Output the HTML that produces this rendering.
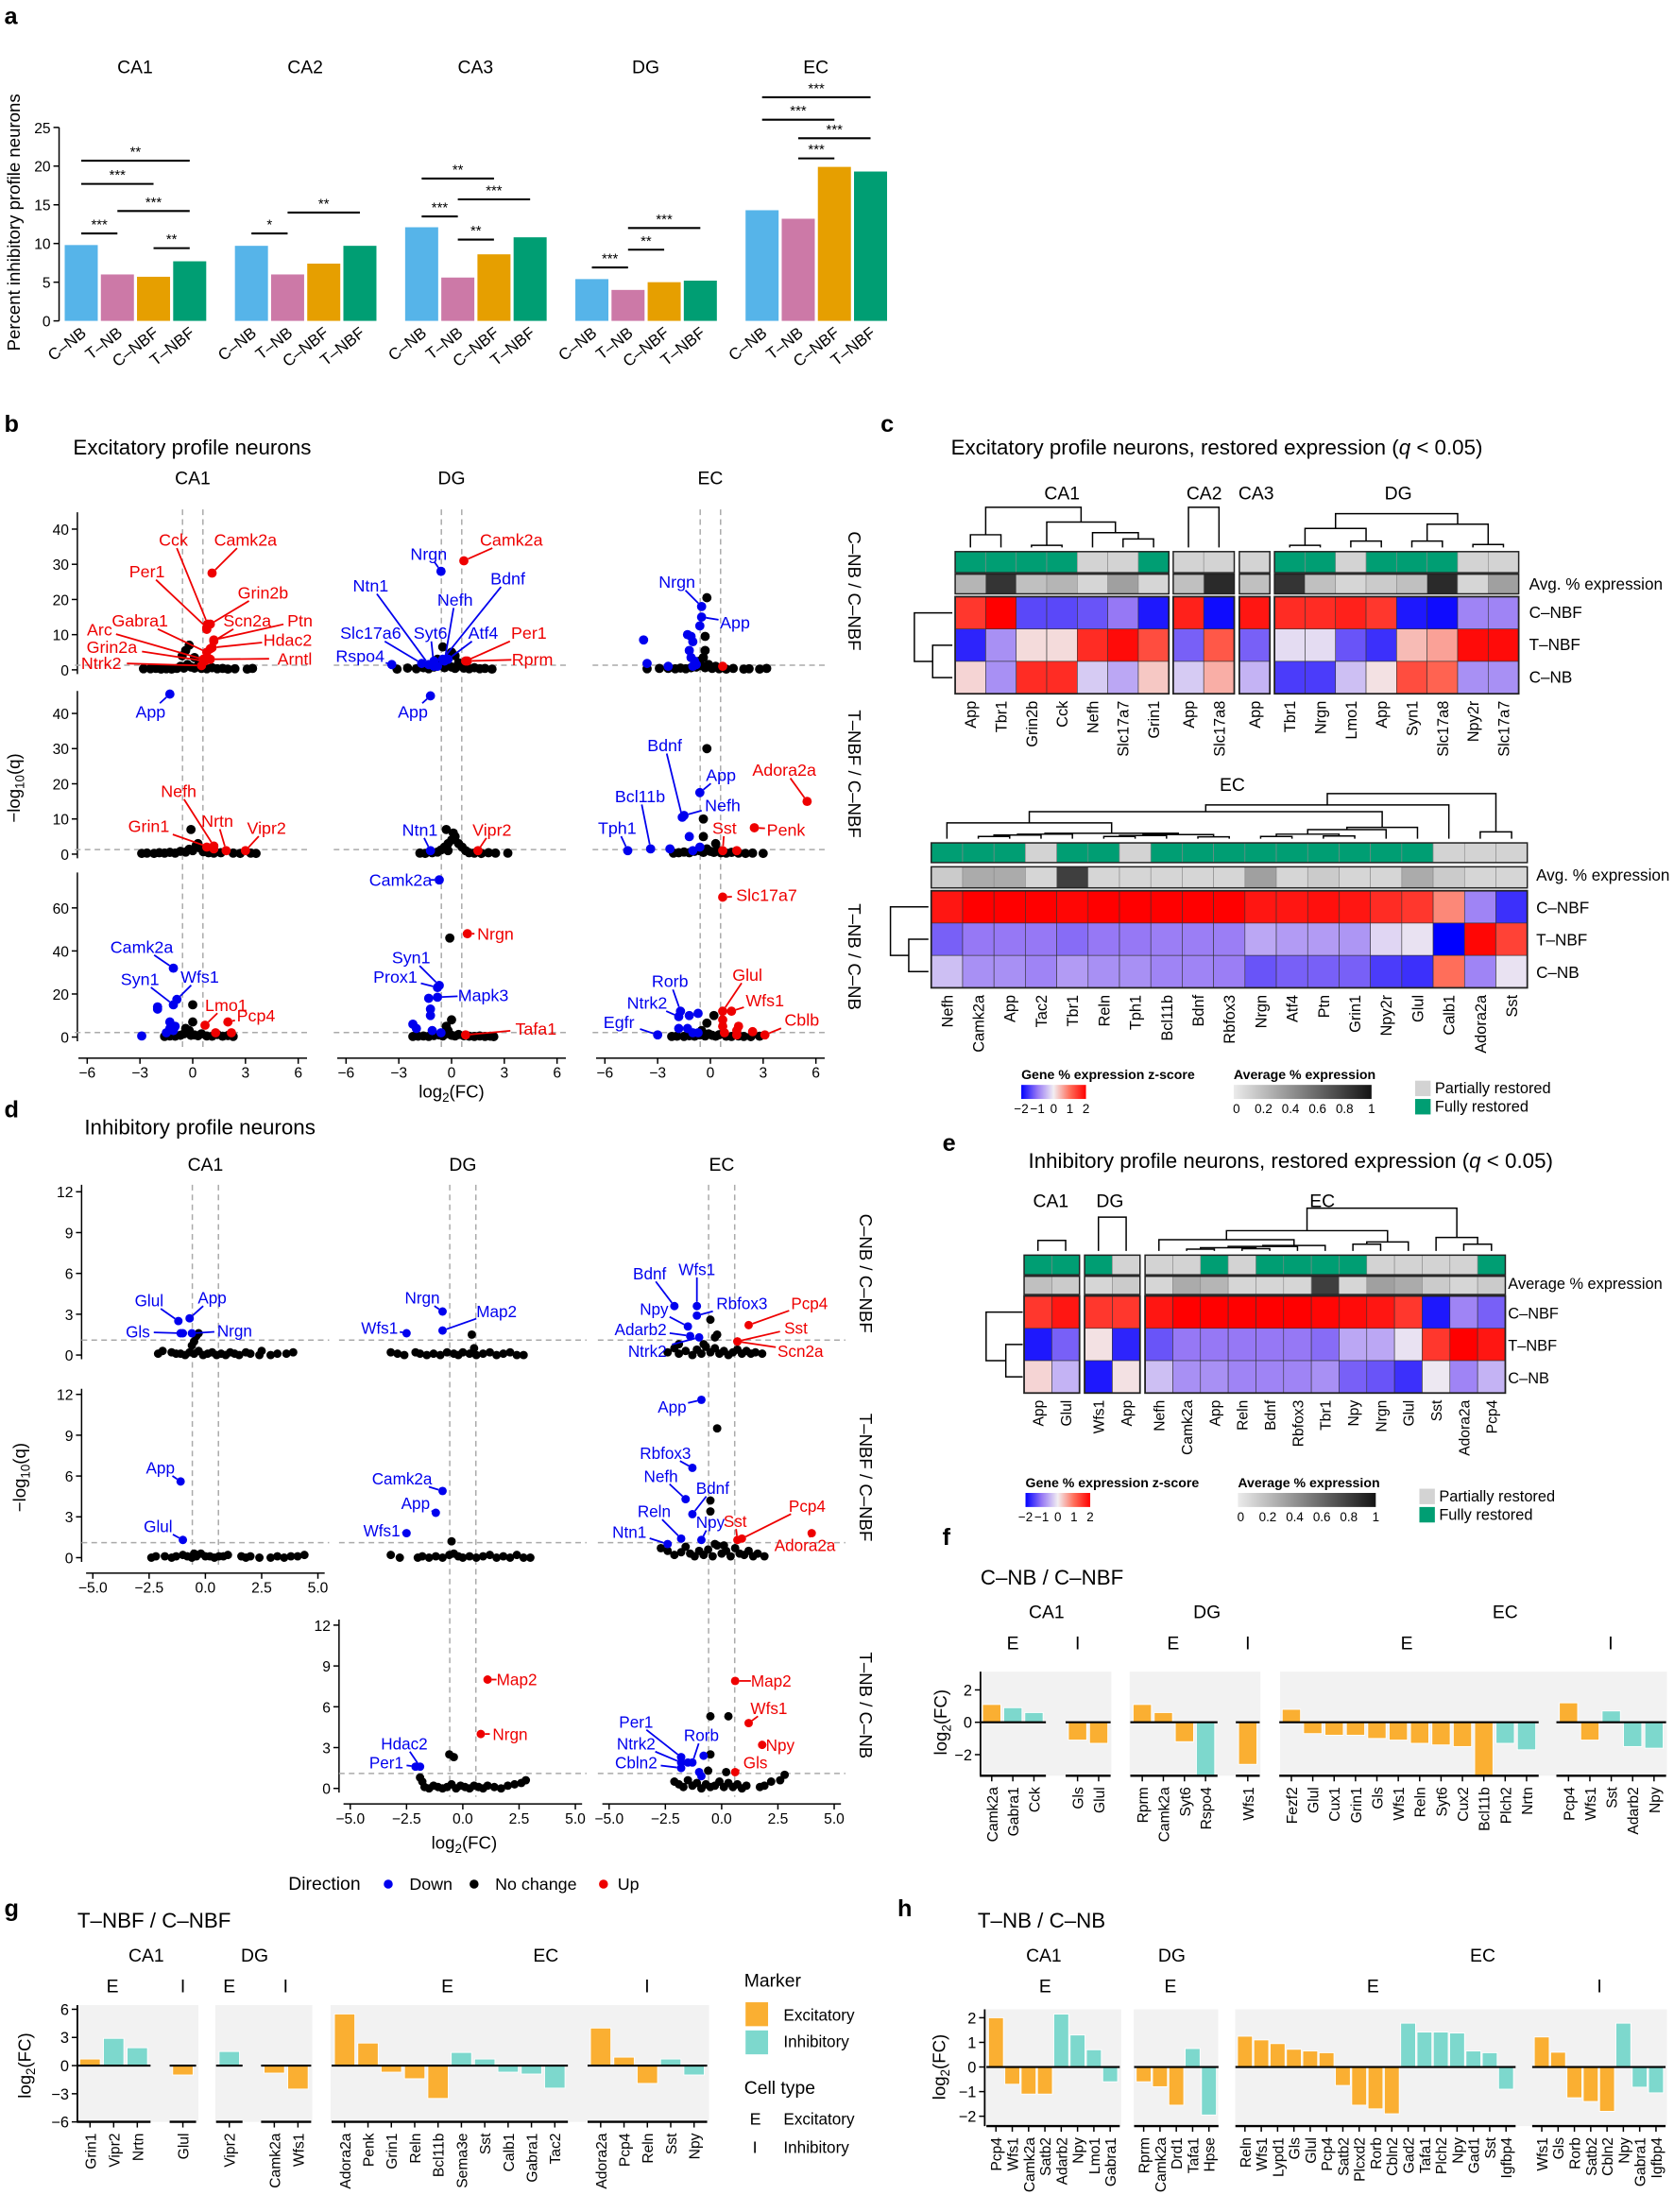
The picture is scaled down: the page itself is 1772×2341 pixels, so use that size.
<!DOCTYPE html>
<html><head><meta charset="utf-8"><style>
html,body{margin:0;padding:0;background:#fff}
svg{display:block;font-family:"Liberation Sans",Arial,sans-serif}
</style></head><body>
<svg id="fig" xmlns="http://www.w3.org/2000/svg" width="1772" height="2341" viewBox="0 0 1190 1572">
<rect x="0" y="0" width="1190" height="1572" fill="#fff"/>
<g font-weight="bold" font-size="17">
<text x="3" y="17">a</text>
<text x="3" y="307">b</text>
<text x="626" y="307">c</text>
<text x="3" y="794">d</text>
<text x="670" y="818">e</text>
<text x="670" y="1098">f</text>
<text x="3" y="1362">g</text>
<text x="638" y="1362">h</text>
</g>
<text x="14" y="158" font-size="12.5" text-anchor="middle" transform="rotate(-90 14 158)">Percent inhibitory profile neurons</text>
<text x="52" y="323" font-size="15">Excitatory profile neurons</text>
<text x="676" y="323" font-size="15">Excitatory profile neurons, restored expression (<tspan font-style="italic">q</tspan> &lt; 0.05)</text>
<text x="60" y="806" font-size="15">Inhibitory profile neurons</text>
<text x="731" y="830" font-size="15">Inhibitory profile neurons, restored expression (<tspan font-style="italic">q</tspan> &lt; 0.05)</text>
<text x="697" y="1126" font-size="15">C–NB / C–NBF</text>
<text x="55" y="1370" font-size="15">T–NBF / C–NBF</text>
<text x="695" y="1370" font-size="15">T–NB / C–NB</text>
<text x="14" y="560" font-size="12.5" text-anchor="middle" transform="rotate(-90 14 560)">−log<tspan font-size="9" dy="3">10</tspan><tspan dy="-3">(q)</tspan></text>
<text x="321" y="780" font-size="12.5" text-anchor="middle">log<tspan font-size="9" dy="3">2</tspan><tspan dy="-3">(FC)</tspan></text>
<text x="18" y="1050" font-size="12.5" text-anchor="middle" transform="rotate(-90 18 1050)">−log<tspan font-size="9" dy="3">10</tspan><tspan dy="-3">(q)</tspan></text>
<text x="330" y="1314" font-size="12.5" text-anchor="middle">log<tspan font-size="9" dy="3">2</tspan><tspan dy="-3">(FC)</tspan></text>
<text x="673" y="1224" font-size="12.5" text-anchor="middle" transform="rotate(-90 673 1224)">log<tspan font-size="9" dy="3">2</tspan><tspan dy="-3">(FC)</tspan></text>
<text x="22" y="1468" font-size="12.5" text-anchor="middle" transform="rotate(-90 22 1468)">log<tspan font-size="9" dy="3">2</tspan><tspan dy="-3">(FC)</tspan></text>
<text x="672" y="1469" font-size="12.5" text-anchor="middle" transform="rotate(-90 672 1469)">log<tspan font-size="9" dy="3">2</tspan><tspan dy="-3">(FC)</tspan></text>
<g font-size="12">
<text x="205" y="1343" font-size="13">Direction</text>
<circle cx="276" cy="1339" r="3.2" fill="#0000EE"/>
<text x="291" y="1343">Down</text>
<circle cx="337" cy="1339" r="3.2" fill="#000"/>
<text x="352" y="1343">No change</text>
<circle cx="429" cy="1339" r="3.2" fill="#EE0000"/>
<text x="439" y="1343">Up</text>
</g>
<g>
<text x="529" y="1412" font-size="13">Marker</text>
<rect x="530" y="1423" width="16" height="17" fill="#FAAF32"/>
<text x="557" y="1436" font-size="11.5">Excitatory</text>
<rect x="530" y="1443" width="16" height="17" fill="#7DD8CD"/>
<text x="557" y="1455" font-size="11.5">Inhibitory</text>
<text x="529" y="1488" font-size="13">Cell type</text>
<text x="533" y="1510" font-size="12">E</text>
<text x="557" y="1510" font-size="11.5">Excitatory</text>
<text x="535" y="1530" font-size="12">I</text>
<text x="557" y="1530" font-size="11.5">Inhibitory</text>
</g>
<defs>
<linearGradient id="zg" x1="0" x2="1" y1="0" y2="0"><stop offset="0" stop-color="#0000FF"/><stop offset="0.25" stop-color="#9678F5"/><stop offset="0.5" stop-color="#F2EEF2"/><stop offset="0.75" stop-color="#FF6E5A"/><stop offset="1" stop-color="#FF0000"/></linearGradient>
<linearGradient id="gg" x1="0" x2="1" y1="0" y2="0"><stop offset="0" stop-color="#EBEBEB"/><stop offset="1" stop-color="#141414"/></linearGradient>
</defs>
</svg>
<script>
// ---------- DATA: panel a ----------
const aRegions=['CA1','CA2','CA3','DG','EC'];
const aGroups=['C–NB','T–NB','C–NBF','T–NBF'];
const aValues=[[9.8,6.0,5.7,7.7],[9.7,6.0,7.4,9.7],[12.1,5.6,8.6,10.8],[5.4,4.0,5.0,5.2],[14.3,13.2,19.9,19.3]];
const aTicks=[0,5,10,15,20,25];
const aSig=[[0,0,1,11.3,'***'],[0,2,3,9.4,'**'],[0,1,3,14.2,'***'],[0,0,2,17.7,'***'],[0,0,3,20.7,'**'],
[1,0,1,11.3,'*'],[1,1,3,14.0,'**'],
[2,0,1,13.5,'***'],[2,1,2,10.5,'**'],[2,1,3,15.7,'***'],[2,0,2,18.4,'**'],
[3,0,1,6.9,'***'],[3,1,2,9.2,'**'],[3,1,3,12.0,'***'],
[4,1,2,21.0,'***'],[4,1,3,23.6,'***'],[4,0,2,26.0,'***'],[4,0,3,28.9,'***']];
// ---------- DATA: panel b volcanoes [x,y,dir,label,labelX,labelY] ----------
const b11Lab=[[1.1,27.5,'r','Camk2a',3,37],[0.85,13,'r','Cck',-1.1,37],[0.8,12,'r','Per1',-2.6,28],[1.0,13,'r','Grin2b',4,22],[0.8,5,'r','Gabra1',-3,14],[1.2,8.2,'r','Scn2a',3.1,14],[1.2,8.5,'r','Ptn',6.1,14],[1.1,6.3,'r','Hdac2',5.4,8.5],[0.6,3,'r','Arc',-5.3,11.5],[0.7,2.5,'r','Grin2a',-4.6,6.5],[1.0,3,'r','Arntl',5.8,3.2],[0.5,1.2,'r','Ntrk2',-5.2,2]];
const b11Base=[-2.8,0.3,-2.4,0.3,-2.1,0.4,-1.8,0.2,-1.5,0.3,-1.2,0.2,-0.9,0.4,-0.7,1,-0.5,0.5,-0.3,1.5,-0.1,0.8,0.1,0.5,0.3,1.2,0.5,0.4,0.8,0.3,1.1,0.6,1.4,0.3,1.7,0.4,2.0,0.2,2.4,0.3,3.1,0.2,3.4,0.4,-0.4,5.5,-0.2,7,-0.6,4,0.1,3.5];
const b11Extra=[0.8,11.5,'r',1.0,6,'r',0.9,3,'r'];
const b12Lab=[[0.7,31,'r','Camk2a',3.4,37],[-0.6,28,'b','Nrgn',-1.3,33],[-1.3,1.5,'b','Ntn1',-4.6,24],[-0.5,3,'b','Bdnf',3.2,26],[-0.4,2.5,'b','Nefh',0.2,20],[-1.7,1.8,'b','Slc17a6',-4.6,10.5],[-1.0,1,'b','Syt6',-1.2,10.5],[-3.4,1.5,'b','Rspo4',-5.2,4],[-0.2,3,'b','Atf4',1.8,10.5],[0.8,2.5,'r','Per1',4.4,10.5],[0.9,2.5,'r','Rprm',4.6,3]];
const b12Base=[-3.1,0.2,-2.5,0.5,-2.0,0.3,-1.6,0.6,-1.3,0.3,-1.0,0.8,-0.7,1.2,-0.4,0.6,-0.2,1.5,0,0.8,0.2,0.4,0.4,1.1,0.7,0.5,1.0,0.3,1.3,0.6,1.6,0.3,1.9,0.4,2.3,0.2,-0.5,6.5,0,5,0.2,4,-0.8,3,0.4,2];
const b12Extra=[-0.8,1,'b',-1.0,2.5,'b'];
const b13Lab=[[-0.5,18,'b','Nrgn',-1.9,25],[-0.5,15,'b','App',1.4,13.5]];
const b13Base=[-3.6,0.3,-2.9,0.4,-2.4,0.4,-2.0,0.3,-1.7,0.5,-1.4,0.3,-1.1,0.6,-0.8,0.8,-0.5,1.2,-0.3,0.6,-0.1,1.5,0.1,0.4,0.3,1,0.5,0.3,0.9,0.2,1.3,0.4,1.9,0.2,2.2,0.3,2.8,0.2,3.2,0.4,-0.2,20.5,-0.3,9.5,-0.3,5.5,-0.4,3.5,-0.6,2.5];
const b13Extra=[-3.8,8.5,'b',-3.6,1.8,'b',-1.3,10,'b',-1.1,9.5,'b',-1.0,8,'b',-1.2,5.5,'b',-1.1,3.5,'b',-0.9,2.5,'b',-0.8,1.5,'b',-1.0,1,'b',-0.6,12.5,'b',-2.4,1,'b',0.7,1,'r'];
const b21Lab=[[-1.3,45.5,'b','App',-2.4,40.5],[1.2,2.3,'r','Nefh',-0.8,18],[1.2,1.5,'r','Grin1',-2.5,8],[1.9,1,'r','Nrtn',1.4,9.5],[3,1,'r','Vipr2',4.2,7.5]];
const b21Base=[-2.9,0.2,-2.6,0.3,-2.2,0.2,-1.9,0.4,-1.6,0.3,-1.3,0.5,-1.0,0.3,-0.7,0.8,-0.4,0.6,-0.2,1.4,0,1,0.2,2.5,0.4,1.8,0.6,0.7,0.9,0.4,1.2,0.3,1.6,0.4,2.3,0.3,2.7,0.2,3.3,0.3,3.6,0.2,-0.1,7,0.3,3];
const b21Extra=[0.8,2,'r'];
const b22Lab=[[-1.2,45,'b','App',-2.2,40.5],[-1.2,1,'b','Ntn1',-1.8,7],[1.5,1,'r','Vipr2',2.3,7]];
const b22Base=[-1.8,0.3,-1.5,0.2,-1.1,0.4,-0.8,0.6,-0.6,1.2,-0.4,2,-0.2,3,0,4,0.2,5,0.4,3,0.6,2,0.8,1,1.0,0.4,1.3,0.3,1.7,0.2,2.1,0.4,2.5,0.3,3.2,0.3,-0.3,7,0.1,6,-0.2,1];
const b22Extra=[];
const b23Lab=[[-1.6,10.5,'b','Bdnf',-2.6,31],[-0.6,17.5,'b','App',0.6,22.5],[-1.5,11,'b','Nefh',0.7,14],[-3.4,1.5,'b','Bcl11b',-4,16.5],[-4.7,1,'b','Tph1',-5.3,7.5],[5.5,15,'r','Adora2a',4.2,24],[0.7,1,'r','Sst',0.8,7.5],[2.5,7.5,'r','Penk',4.3,7]];
const b23Base=[-2.1,0.3,-1.8,0.4,-1.5,0.6,-1.2,0.4,-0.9,0.8,-0.6,1,-0.4,0.5,-0.2,1.5,0,0.8,0.2,0.5,0.4,1.2,0.6,0.4,0.9,0.3,1.2,0.5,1.6,0.3,2.0,0.2,2.4,0.3,3.0,0.2,-0.2,30,-0.4,10,-0.4,5,0.3,3];
const b23Extra=[-1.2,5,'b',-2.3,1.5,'b',-0.6,2,'b',-1,1,'b',1.5,1,'r'];
const b31Lab=[[-1.1,32,'b','Camk2a',-2.9,42],[-1.1,15,'b','Syn1',-3.0,27],[-0.9,17.5,'b','Wfs1',0.4,28],[0.7,5.5,'r','Lmo1',1.9,15],[2,7,'r','Pcp4',3.6,10]];
const b31Base=[-1.6,0.3,-1.3,0.5,-1.0,0.4,-0.7,0.8,-0.5,1.5,-0.3,2,-0.1,0.8,0.1,1,0.3,0.6,0.5,1.5,0.8,0.5,1.1,0.4,1.4,1.2,1.7,0.4,2.0,0.7,2.3,0.3,0,15,0.0,7,-0.4,4,-0.2,3];
const b31Extra=[-2,14,'b',-2.0,13,'b',-1.3,7,'b',-1.0,5,'b',-2.9,0.5,'b',-1.5,2,'b',-1.1,3,'b',-1.3,4,'b',1.3,2,'r',2.2,2,'r'];
const b32Lab=[[-0.7,73,'b','Camk2a',-2.9,73],[0.9,48,'r','Nrgn',2.5,48],[-0.7,24,'b','Syn1',-2.3,37],[-0.8,23,'b','Prox1',-3.2,28],[-0.8,18.5,'b','Mapk3',1.8,19.5],[0.8,1,'r','Tafa1',4.8,4]];
const b32Base=[-2.2,0.3,-1.9,0.4,-1.6,0.5,-1.3,0.3,-1.0,0.7,-0.7,1,-0.5,0.5,-0.3,1.5,0,0.8,0.2,0.5,0.4,1.2,0.7,0.6,1.0,0.4,1.3,0.3,1.6,0.5,1.9,0.3,2.2,0.4,2.4,0.2,-0.1,46,0,8,-0.3,5,-0.2,3];
const b32Extra=[-1.3,18,'b',-1.2,13,'b',-1.2,10,'b',-2.2,6,'b',-2.0,4,'b',-1.1,3,'b',-0.6,2,'b'];
const b33Lab=[[0.7,65,'r','Slc17a7',3.2,66],[0.7,12,'r','Glul',2.1,29],[1.2,12,'r','Wfs1',3.1,17],[3.1,1,'r','Cblb',5.2,8],[-1.7,12,'b','Rorb',-2.3,26],[-1.8,9.5,'b','Ntrk2',-3.6,16],[-3,1,'b','Egfr',-5.2,7]];
const b33Base=[-2.2,0.3,-1.9,0.4,-1.5,0.3,-1.2,0.6,-0.9,0.4,-0.6,1,-0.3,0.5,-0.1,1.5,0.1,0.8,0.3,0.4,0.5,1.1,0.9,0.4,1.2,0.3,1.6,0.5,1.9,0.3,2.3,0.2,2.8,0.4,0.2,10,-0.2,6.5,-0.5,3];
const b33Extra=[-1.2,10,'b',-0.7,11,'b',-1.8,4,'b',-1.3,4,'b',-0.7,2,'b',-1.0,2,'b',0.7,8,'r',0.7,5,'r',1.6,5,'r',1.5,3,'r',2.4,2.5,'r',1.5,1,'r',0.8,2,'r'];
// ---------- DATA: panel d volcanoes ----------
const d11Lab=[[-1.2,2.5,'b','Glul',-2.5,4],[-0.7,2.7,'b','App',0.3,4.2],[-1.0,1.6,'b','Gls',-3.0,1.7],[-0.6,1.6,'b','Nrgn',1.3,1.8]];
const d11Base=[-2.1,0.1,-1.9,0.3,-1.5,0.2,-1.3,0.1,-1.1,0.1,-0.9,0,-0.7,0.2,-0.5,0.1,-0.3,0.3,-0.1,0,0.1,0.1,0.3,0.2,0.5,0,0.7,0.1,0.9,0,1.1,0.2,1.3,0.1,1.5,0,1.8,0.2,2.0,0.1,2.4,0,2.5,0.3,2.9,0,3.2,0.1,3.6,0.1,3.9,0.2,-0.4,1.4,-0.5,1.0,-0.6,0.7,-0.3,1.6];
const d11Extra=[-1.1,1.6,'b'];
const d12Lab=[[-0.9,3.2,'b','Nrgn',-1.8,4.2],[-0.9,1.8,'b','Map2',1.5,3.2],[-2.5,1.6,'b','Wfs1',-3.7,2]];
const d12Base=[-3.2,0.2,-2.9,0.1,-2.6,0,-2.1,0.2,-1.9,0.1,-1.6,0,-1.3,0.1,-1.0,0,-0.7,0.2,-0.4,0.1,-0.2,0,0,0.2,0.3,0.1,0.6,0,0.9,0.1,1.2,0.2,1.5,0,1.8,0.1,2.1,0.2,2.4,0,2.7,0,0.4,1.5,0.5,0.5];
const d12Extra=[];
const d13Lab=[[-2.1,3.6,'b','Bdnf',-3.2,6],[-1.1,3.6,'b','Wfs1',-1.1,6.3],[-1.1,2.9,'b','Rbfox3',0.9,3.8],[-1.5,2.1,'b','Npy',-3.0,3.4],[-1.4,1.4,'b','Adarb2',-3.6,1.9],[-1.0,1.3,'b','Ntrk2',-3.3,0.3],[1.2,2.2,'r','Pcp4',3.9,3.8],[0.7,1,'r','Sst',3.3,2],[0.7,1,'r','Scn2a',3.5,0.3]];
const d13Base=[-2.4,0.2,-2.1,0.5,-1.9,0.1,-1.6,0.3,-1.3,0,-1.1,0.4,-0.9,0.1,-0.7,0.6,-0.5,0.2,-0.3,0.5,-0.1,0.1,0.1,0.3,0.3,0,0.5,0.2,0.7,0.4,0.9,0.1,1.1,0.3,1.3,0.1,1.5,0.2,1.8,0.1,-0.5,2.6,-0.3,1.3,-0.2,1.5,-1.9,0.8,-0.8,0.8];
const d13Extra=[];
const d21Lab=[[-1.1,5.6,'b','App',-2.0,6.6],[-1.0,1.3,'b','Glul',-2.1,2.3]];
const d21Base=[-2.4,0,-2.2,0.1,-1.8,0.1,-1.5,0,-1.3,0.1,-1.0,0.2,-0.8,0.1,-0.6,0,-0.4,0.1,-0.2,0.3,0,0.1,0.2,0.1,0.4,0,0.6,0.1,0.8,0.1,1.0,0.2,1.6,0.1,1.8,0,2.0,0.1,2.4,0,2.9,0,3.2,0.1,3.5,0,3.8,0.1,4.1,0.1,4.4,0.2,-0.5,0.3];
const d21Extra=[];
const d22Lab=[[-0.9,4.9,'b','Camk2a',-2.7,5.8],[-1.2,3.3,'b','App',-2.1,4],[-2.5,1.8,'b','Wfs1',-3.6,2]];
const d22Base=[-3.2,0.2,-2.8,0,-2.0,0,-1.8,0.1,-1.5,0,-1.2,0.1,-0.9,0,-0.6,0.2,-0.4,0.3,-0.2,0.1,0,0,0.3,0.1,0.6,0,0.9,0.1,1.2,0.2,1.5,0,1.8,0.1,2.1,0,2.4,0.2,2.7,0,3.0,0,-0.5,1.2];
const d22Extra=[];
const d23Lab=[[-0.9,11.6,'b','App',-2.2,11.1],[-1.3,6.6,'b','Rbfox3',-2.5,7.7],[-1.6,4.3,'b','Nefh',-2.7,6],[-1.3,3.2,'b','Bdnf',-0.4,5.1],[-1.8,1.4,'b','Reln',-3.0,3.4],[-2.4,1,'b','Ntn1',-4.1,1.9],[-0.9,1.3,'b','Npy',-0.5,2.6],[0.7,1.3,'r','Sst',0.6,2.7],[0.9,1.4,'r','Pcp4',3.8,3.8],[4.0,1.8,'r','Adora2a',3.7,0.9]];
const d23Base=[-2.7,0.7,-2.4,0.5,-2.1,0.2,-1.8,0.4,-1.6,0.8,-1.4,0.3,-1.2,0.1,-1.0,0.5,-0.8,0.2,-0.6,0.6,-0.4,0.1,-0.2,0.9,0,0.3,0.2,0.5,0.4,0.1,0.6,0.7,0.8,0.3,1.0,0.2,1.2,0.5,1.4,0.1,1.6,0.3,1.9,0.1,-0.2,9.5,-0.5,4.2,-0.5,3.4,-0.3,1,0.1,0.9];
const d23Extra=[];
const d32Lab=[[1.1,8,'r','Map2',2.4,8],[0.8,4,'r','Nrgn',2.1,4],[-1.9,1.6,'b','Hdac2',-2.6,3.3],[-2.1,1.6,'b','Per1',-3.4,1.9]];
const d32Base=[-1.9,0.8,-1.8,0.5,-1.7,0.1,-1.5,0,-1.3,0.2,-1.1,0.1,-0.9,0,-0.7,0.1,-0.5,0.3,-0.3,0,-0.1,0.2,0.1,0.1,0.3,0,0.5,0.2,0.7,0.1,0.9,0,1.1,0.2,1.4,0.1,1.7,0,2.0,0.2,2.3,0.3,2.6,0.4,2.8,0.6,-0.6,2.5,-0.4,2.3];
const d32Extra=[];
const d33Lab=[[0.6,7.9,'r','Map2',2.2,7.9],[1.2,4.8,'r','Wfs1',2.1,5.9],[1.8,3.2,'r','Npy',2.6,3.2],[0.6,1.2,'r','Gls',1.5,1.9],[-1.8,2.3,'b','Per1',-3.8,4.9],[-1.3,1.9,'b','Rorb',-0.9,3.9],[-1.8,1.9,'b','Ntrk2',-3.8,3.3],[-1.8,1.5,'b','Cbln2',-3.8,1.9]];
const d33Base=[-2.1,0.5,-1.9,0.3,-1.7,0.1,-1.5,0.6,-1.3,0.2,-1.1,0.4,-0.9,0,-0.7,0.3,-0.5,0.1,-0.3,0.2,-0.1,0.5,0.1,0.1,0.3,0.4,0.5,0.1,0.7,0.3,0.9,0,1.1,0.2,-0.5,5.3,0.3,5.3,-0.5,2.5,-0.6,1.3,0.2,1.2,2.8,1,2.6,0.6,2.2,0.5,1.9,0.2,1.7,0.1];
const d33Extra=[-0.8,2.4,'b',-1.0,1.2,'b',-0.9,0.9,'b',-1.5,1.9,'b'];
// ---------- DATA: heatmaps (z-scores per gene: [C-NBF, T-NBF, C-NB]) ----------
const cRows=['C–NBF','T–NBF','C–NB'];
const cCA1Genes=['App','Tbr1','Grin2b','Cck','Nefh','Slc17a7','Grin1'];
const cCA1Z=[[1.5,-1.7,0.2],[2,-0.8,-0.8],[-1.4,0.15,1.6],[-1.4,0.15,1.6],[-1.3,1.6,-0.3],[-1,1.9,-0.6],[-1.8,1.3,0.3]];
const cCA1Full=[1,1,1,1,0,0,1];
const cCA1Avg=[0.25,0.85,0.2,0.25,0.1,0.35,0.1];
const cCA2Genes=['App','Slc17a8'];
const cCA2Z=[[1.7,-1.2,-0.3],[-1.9,1.2,0.5]];
const cCA2Full=[0,0];
const cCA2Avg=[0.2,0.9];
const cCA3Genes=['App'];
const cCA3Z=[[1.8,-1.2,-0.5]];
const cCA3Full=[0];
const cCA3Avg=[0.2];
const cDGGenes=['Tbr1','Nrgn','Lmo1','App','Syn1','Slc17a8','Npy2r','Slc17a7'];
const cDGZ=[[1.6,-0.15,-1.5],[1.6,-0.15,-1.5],[1.7,-1.3,-0.4],[1.5,-1.6,0.1],[-1.8,0.4,1.3],[-1.9,0.6,1.1],[-0.9,1.9,-0.8],[-0.9,1.9,-0.8]];
const cDGFull=[1,1,0,1,1,1,0,0];
const cDGAvg=[0.85,0.2,0.1,0.15,0.2,0.9,0.1,0.35];
const cECGenes=['Nefh','Camk2a','App','Tac2','Tbr1','Reln','Tph1','Bcl11b','Bdnf','Rbfox3','Nrgn','Atf4','Ptn','Grin1','Npy2r','Glul','Calb1','Adora2a','Sst'];
const cECZ=[[1.8,-1.2,-0.4],[2,-1,-0.8],[2,-1,-0.8],[2,-1,-0.9],[1.95,-1.1,-0.7],[2,-1,-0.8],[2,-1,-0.8],[2,-0.95,-0.9],[2,-0.95,-0.9],[2,-0.95,-0.95],[1.8,-0.6,-1.3],[1.8,-0.7,-1.2],[1.85,-0.7,-1.2],[1.8,-0.75,-1.2],[1.6,-0.2,-1.5],[1.5,-0.1,-1.6],[0.8,-2,1],[-0.9,1.95,-0.9],[-1.6,1.4,-0.1]];
const cECFull=[1,1,1,0,1,1,0,1,1,1,1,1,1,1,1,1,0,0,0];
const cECAvg=[0.15,0.3,0.3,0.1,0.8,0.1,0.1,0.1,0.1,0.1,0.35,0.1,0.15,0.1,0.1,0.3,0.15,0.1,0.1];
const eCA1Genes=['App','Glul'];
const eCA1Z=[[1.5,-1.8,0.2],[1.8,-1.2,-0.5]];
const eCA1Full=[1,1];
const eCA1Avg=[0.2,0.15];
const eDGGenes=['Wfs1','App'];
const eDGZ=[[1.5,0.1,-1.8],[1.5,-1.7,0.1]];
const eDGFull=[1,0];
const eDGAvg=[0.1,0.15];
const eECGenes=['Nefh','Camk2a','App','Reln','Bdnf','Rbfox3','Tbr1','Npy','Nrgn','Glul','Sst','Adora2a','Pcp4'];
const eECZ=[[1.8,-1.3,-0.4],[2,-1,-0.8],[2,-1,-0.8],[2,-1,-0.9],[2,-1,-0.9],[2,-1,-0.9],[1.95,-1.1,-0.8],[1.9,-0.6,-1.2],[1.8,-0.6,-1.3],[1.5,-0.1,-1.6],[-1.8,1.5,-0.05],[-0.9,2,-0.9],[-1.2,1.8,-0.5]];
const eECFull=[0,0,1,0,1,1,1,1,0,0,0,0,1];
const eECAvg=[0.1,0.3,0.25,0.1,0.1,0.1,0.8,0.1,0.35,0.3,0.15,0.1,0.15];
// ---------- DATA: bar panels f, g, h ----------
const fGenes=['Camk2a','Gabra1','Cck','Gls','Glul','Rprm','Camk2a','Syt6','Rspo4','Wfs1','Fezf2','Glul','Cux1','Grin1','Gls','Wfs1','Reln','Syt6','Cux2','Bcl11b','Plch2','Nrtn','Pcp4','Wfs1','Sst','Adarb2','Npy'];
const fValues=[1.1,0.9,0.6,-1.1,-1.3,1.1,0.6,-1.2,-3.3,-2.6,0.8,-0.7,-0.8,-0.8,-1.0,-1.1,-1.3,-1.4,-1.5,-3.3,-1.3,-1.7,1.2,-1.1,0.7,-1.5,-1.6];
const fMarker=['E','I','I','E','E','E','E','E','I','E','E','E','E','E','E','E','E','E','E','E','I','I','E','E','I','I','I'];
const fTicks=[-2,0,2];
const gGenes=['Grin1','Vipr2','Nrtn','Glul','Vipr2','Camk2a','Wfs1','Adora2a','Penk','Grin1','Reln','Bcl11b','Sema3e','Sst','Calb1','Gabra1','Tac2','Adora2a','Pcp4','Reln','Sst','Npy'];
const gValues=[0.7,2.9,1.9,-1.0,1.5,-0.8,-2.5,5.5,2.4,-0.7,-1.4,-3.5,1.4,0.7,-0.7,-0.9,-2.4,4.0,0.9,-1.9,0.7,-1.0];
const gMarker=['E','I','I','E','I','E','E','E','E','E','E','E','I','I','I','I','I','E','E','E','I','I'];
const gTicks=[-6,-3,0,3,6];
const hGenes=['Pcp4','Wfs1','Camk2a','Satb2','Adarb2','Npy','Lmo1','Gabra1','Rprm','Camk2a','Drd1','Tafa1','Hpse','Reln','Wfs1','Lypd1','Gls','Glul','Pcp4','Satb2','Plcxd2','Rorb','Cbln2','Gad2','Tafa1','Plch2','Npy','Gad1','Sst','Igfbp4','Wfs1','Gls','Rorb','Satb2','Cbln2','Npy','Gabra1','Igfbp4'];
const hValues=[2.0,-0.7,-1.1,-1.1,2.15,1.3,0.7,-0.6,-0.6,-0.8,-1.55,0.75,-1.95,1.25,1.1,0.95,0.72,0.65,0.58,-0.75,-1.55,-1.7,-1.9,1.78,1.42,1.42,1.38,0.65,0.58,-0.9,1.22,0.6,-1.25,-1.4,-1.8,1.78,-0.82,-1.05];
const hMarker=['E','E','E','E','I','I','I','I','E','E','E','I','I','E','E','E','E','E','E','E','E','E','E','I','I','I','I','I','I','I','E','E','E','E','E','I','I','I'];
const hTicks=[-2,-1,0,1,2];

// ---------- helpers ----------
const NS='http://www.w3.org/2000/svg';
const svg=document.getElementById('fig');
function E(tag,at){const e=document.createElementNS(NS,tag);for(const k in at)e.setAttribute(k,at[k]);svg.appendChild(e);return e;}
function T(x,y,s,o){o=o||{};
 const e=E('text',{x:x,y:y,'font-size':o.fs||11,'text-anchor':o.a||'start',fill:o.c||'#000','font-weight':o.w||'normal'});
 if(o.r!==undefined)e.setAttribute('transform','rotate('+o.r+' '+x+' '+y+')');
 e.textContent=s;
 
 
 return e;}
function L(x1,y1,x2,y2,o){o=o||{};
 const e=E('line',{x1:x1,y1:y1,x2:x2,y2:y2,stroke:o.c||'#000','stroke-width':o.w||1});
 if(o.d)e.setAttribute('stroke-dasharray',o.d);
 
 
 return e;}
function R(x,y,w,h,fill,o){o=o||{};
 const e=E('rect',{x:x,y:y,width:w,height:h,fill:fill});
 if(o.s){e.setAttribute('stroke',o.s);e.setAttribute('stroke-width',o.sw||0.6);}
 
 
 return e;}
function P(d,o){o=o||{};
 const e=E('path',{d:d,fill:'none',stroke:o.c||'#000','stroke-width':o.w||1});
 
 
 return e;}
const fmt=v=>(v<0?'−':'')+Math.abs(v);

// ---------- panel a ----------
(function(){
 const ay=v=>228-v*5.5;
 const cols=['#56B4E9','#CC79A7','#E69F00','#009E73'];
 L(42,ay(0),42,ay(25),{n:'a-y-axis'});
 aTicks.forEach(t=>{L(38,ay(t),42,ay(t),{n:'a-y-tick'});T(36,ay(t)+4,String(t),{a:'end',fs:10.5,n:'a-y-tick-label'});});
 aRegions.forEach((rg,g)=>{
  const gx=46+g*121;
  T(gx+50,52,rg,{a:'middle',fs:13,n:'a-region-title'});
  aValues[g].forEach((v,i)=>{
   const x=gx+i*25.7;
   const r=R(x,ay(v),23.5,ay(0)-ay(v),cols[i]);
   
   T(x+16,238,aGroups[i],{a:'end',fs:11.5,r:-38,n:'a-x-label'});
  });
 });
 aSig.forEach(s=>{const gx=46+s[0]*121;const x1=gx+s[1]*25.7+11.75,x2=gx+s[2]*25.7+11.75,y=ay(s[3]);
  L(x1,y,x2,y,{w:1.4,n:'a-significance-bar'});T((x1+x2)/2,y-3,s[4],{a:'middle',fs:10,n:'a-significance-stars'});});
})();

// ---------- volcano ----------
function volcano(p,lab,base,extra){
 const X=v=>p.x0+v*p.sx, Y=v=>p.y0-v*p.sy;
 L(X(-p.xr),Y(p.thr),X(p.xr),Y(p.thr),{c:'#aaa',d:'4,3',n:'q-threshold-line'});
 for(let i=0;i<base.length;i+=2){const c=E('circle',{cx:X(base[i]),cy:Y(base[i+1]),r:p.pr,fill:'#000'});
  
  }
 for(let i=0;i<extra.length;i+=3){const c=E('circle',{cx:X(extra[i]),cy:Y(extra[i+1]),r:p.pr,fill:extra[i+2]=='r'?'#EE0000':'#0000EE'});
  
  }
 lab.forEach(q=>{const col=q[2]=='r'?'#EE0000':'#0000EE';
  const px=X(q[0]),py=Y(q[1]),lx=X(q[4]),ly=Y(q[5]);
  const dx=px-lx,dy=py-ly,dist=Math.hypot(dx,dy);
  const hw=q[3].length*p.fs*0.27+2,hh=p.fs*0.5;
  const t=Math.min(Math.abs(dx)>0.01?hw/Math.abs(dx):99,Math.abs(dy)>0.01?hh/Math.abs(dy):99);
  if(t<1&&dist>p.pr+4){L(lx+dx*t,ly+dy*t,px-dx/dist*p.pr,py-dy/dist*p.pr,{c:col,w:1.2,n:'gene-label-leader'});}
  const c=E('circle',{cx:px,cy:py,r:p.pr,fill:col});
  
  
  T(lx,ly+p.fs*0.36,q[3],{a:'middle',fs:p.fs,c:col,n:'gene-label'});
 });
}
function yAxis(x,y0,sy,ticks,top,fs){L(x,y0+3,x,top,{n:'y-axis'});ticks.forEach(t=>{L(x-4,y0-t*sy,x,y0-t*sy,{n:'y-tick'});T(x-6,y0-t*sy+4,String(t),{a:'end',fs:fs,n:'y-tick-label'});});}
function xAxis(x0,sx,y,ticks,lo,hi,labels,fs){L(x0+lo*sx,y,x0+hi*sx,y,{n:'x-axis'});ticks.forEach((t,i)=>{L(x0+t*sx,y,x0+t*sx,y+4,{n:'x-tick'});T(x0+t*sx,y+14,labels[i],{a:'middle',fs:fs,n:'x-tick-label'});});}

// panel b
(function(){
 const xs=[137,321,505],ys=[476,607,737],sy=[2.5,2.5,1.53],sx=12.5;
 ['CA1','DG','EC'].forEach((r,i)=>{T(xs[i],344,r,{a:'middle',fs:13,n:'b-column-title'});
  [-0.58,0.58].forEach(v=>L(xs[i]+v*sx,362,xs[i]+v*sx,745,{c:'#aaa',d:'4,3',n:'fc-threshold-line'}));
  xAxis(xs[i],sx,752,[-6,-3,0,3,6],-6.5,6.5,['−6','−3','0','3','6'],10.5);});
 yAxis(55,ys[0],sy[0],[0,10,20,30,40],364,10.5);
 yAxis(55,ys[1],sy[1],[0,10,20,30,40],491,10.5);
 yAxis(55,ys[2],sy[2],[0,20,40,60],620,10.5);
 const sets=[[b11Lab,b11Base,b11Extra],[b12Lab,b12Base,b12Extra],[b13Lab,b13Base,b13Extra],[b21Lab,b21Base,b21Extra],[b22Lab,b22Base,b22Extra],[b23Lab,b23Base,b23Extra],[b31Lab,b31Base,b31Extra],[b32Lab,b32Base,b32Extra],[b33Lab,b33Base,b33Extra]];
 sets.forEach((s,k)=>{const r=Math.floor(k/3),c=k%3;volcano({x0:xs[c],y0:ys[r],sx:sx,sy:sy[r],xr:6.7,thr:1.3/sy[r]*2.5,pr:3.3,fs:12},s[0],s[1],s[2]);});
 [['C–NB / C–NBF',420],['T–NBF / C–NBF',550],['T–NB / C–NB',680]].forEach(q=>T(603,q[1],q[0],{a:'middle',fs:12.5,r:90,n:'b-row-label'}));
})();
// panel d
(function(){
 const xs=[146,329,513],ys=[963,1107,1271],sx=16,sy=9.67;
 ['CA1','DG','EC'].forEach((r,i)=>{T(xs[i],832,r,{a:'middle',fs:13,n:'d-column-title'});
  const bot=i==0?1112:1277;
  [-0.58,0.58].forEach(v=>L(xs[i]+v*sx,842,xs[i]+v*sx,bot,{c:'#aaa',d:'4,3',n:'fc-threshold-line'}));});
 xAxis(xs[0],sx,1118,[-5,-2.5,0,2.5,5],-5.3,5.3,['−5.0','−2.5','0.0','2.5','5.0'],10.5);
 xAxis(xs[1],sx,1282,[-5,-2.5,0,2.5,5],-5.3,5.3,['−5.0','−2.5','0.0','2.5','5.0'],10.5);
 xAxis(xs[2],sx,1282,[-5,-2.5,0,2.5,5],-5.3,5.3,['−5.0','−2.5','0.0','2.5','5.0'],10.5);
 yAxis(58,ys[0],sy,[0,3,6,9,12],842,10.5);
 yAxis(58,ys[1],sy,[0,3,6,9,12],987,10.5);
 yAxis(241,ys[2],sy,[0,3,6,9,12],1151,10.5);
 const sets=[[0,0,d11Lab,d11Base,d11Extra],[0,1,d12Lab,d12Base,d12Extra],[0,2,d13Lab,d13Base,d13Extra],[1,0,d21Lab,d21Base,d21Extra],[1,1,d22Lab,d22Base,d22Extra],[1,2,d23Lab,d23Base,d23Extra],[2,1,d32Lab,d32Base,d32Extra],[2,2,d33Lab,d33Base,d33Extra]];
 sets.forEach(s=>volcano({x0:xs[s[1]],y0:ys[s[0]],sx:sx,sy:sy,xr:5.5,thr:1.1,pr:3,fs:11.5},s[2],s[3],s[4]));
 [['C–NB / C–NBF',905],['T–NBF / C–NBF',1050],['T–NB / C–NB',1212]].forEach(q=>T(611,q[1],q[0],{a:'middle',fs:12.5,r:90,n:'d-row-label'}));
})();

// ---------- heatmaps ----------
function zcol(z){const st=[[-2,[0,0,255]],[-1,[150,120,245]],[0,[242,238,242]],[1,[255,110,90]],[2,[255,0,0]]];z=Math.max(-2,Math.min(2,z));
 for(let i=0;i<4;i++){if(z<=st[i+1][0]){const t=z-st[i][0],a=st[i][1],b=st[i+1][1];return 'rgb('+a.map((v,k)=>Math.round(v+(b[k]-v)*t)).join(',')+')';}}return 'rgb(255,0,0)';}
function gcol(v){const c=Math.round(235-v*215);return 'rgb('+c+','+c+','+c+')';}
function heatBlock(x,genes,z,full,avg,g){
 genes.forEach((gn,i)=>{const cx=x+i*g.cw;
  R(cx,g.annY,g.cw,g.annH,full[i]?'#009E73':'#D3D3D3',{s:'#888',sw:0.4,n:'restoration-annotation-'+gn});
  R(cx,g.avgY,g.cw,g.avgH,gcol(avg[i]),{s:'#888',sw:0.4,n:'avg-expression-'+gn});
  for(let r=0;r<3;r++)R(cx,g.hY+r*g.rh,g.cw,g.rh,zcol(z[i][r]),{s:'#333',sw:0.4,n:'heat-cell-'+gn});
  T(cx+g.cw/2+4,g.labY,gn,{a:'end',fs:g.fs,r:-90,n:'heatmap-gene-label'});
 });
 const w=genes.length*g.cw;
 R(x,g.annY,w,g.annH,'none',{s:'#222',sw:1,n:'annotation-border'});
 R(x,g.avgY,w,g.avgH,'none',{s:'#222',sw:1,n:'avg-border'});
 R(x,g.hY,w,3*g.rh,'none',{s:'#222',sw:1.2,n:'heatmap-border'});
}
function dend(x,cw,n,merges,ybase,scale){const pos=[],ht=[];for(let i=0;i<n;i++){pos.push(x+(i+0.5)*cw);ht.push(0);}
 merges.forEach(m=>{const a=m[0],b=m[1],y=ybase-m[2]*scale;P('M'+pos[a]+' '+(ybase-ht[a]*scale)+'V'+y+'H'+pos[b]+'V'+(ybase-ht[b]*scale),{n:'dendrogram-branch'});pos.push((pos[a]+pos[b])/2);ht.push(m[2]);});}
function rowDend(xr,y0,rh,w1,w2){const c=[y0+rh/2,y0+1.5*rh,y0+2.5*rh];
 P('M'+xr+' '+c[1]+'H'+(xr-w1)+'V'+c[2]+'H'+xr,{n:'row-dendrogram'});
 P('M'+xr+' '+c[0]+'H'+(xr-w2)+'V'+(c[1]+c[2])/2+'H'+(xr-w1),{n:'row-dendrogram'});}
function heatLegend(x,y){
 T(x,y,'Gene % expression z-score',{fs:9.5,w:'bold',n:'zscore-legend-title'});
 R(x,y+4,46,10,'url(#zg)',{n:'zscore-colorbar'});
 [['−2',0],['−1',11.5],['0',23],['1',34.5],['2',46]].forEach(q=>T(x+q[1],y+24,q[0],{a:'middle',fs:9,n:'zscore-tick-label'}));
 T(x+151,y,'Average % expression',{fs:9.5,w:'bold',n:'avg-legend-title'});
 R(x+151,y+4,98,10,'url(#gg)',{n:'avg-colorbar'});
 ['0','0.2','0.4','0.6','0.8','1'].forEach((s,i)=>T(x+153+i*19.2,y+24,s,{a:'middle',fs:9,n:'avg-tick-label'}));
 R(x+280,y+1,11,11,'#D3D3D3',{n:'legend-partial-swatch'});
 T(x+294,y+10,'Partially restored',{fs:11,n:'legend-partial-label'});
 R(x+280,y+14,11,11,'#009E73',{n:'legend-full-swatch'});
 T(x+294,y+23,'Fully restored',{fs:11,n:'legend-full-label'});
}
(function(){
 const g={cw:21.7,annY:392,annH:15,avgY:408,avgH:14,hY:424,rh:23,labY:498,fs:11};
 heatBlock(679,cCA1Genes,cCA1Z,cCA1Full,cCA1Avg,g);
 heatBlock(834,cCA2Genes,cCA2Z,cCA2Full,cCA2Avg,g);
 heatBlock(881,cCA3Genes,cCA3Z,cCA3Full,cCA3Avg,g);
 heatBlock(906,cDGGenes,cDGZ,cDGFull,cDGAvg,g);
 dend(679,21.7,7,[[2,3,0.05],[0,1,0.3],[5,6,0.2],[4,9,0.35],[7,10,0.6],[8,11,0.95]],389,30);
 dend(834,21.7,2,[[0,1,0.95]],389,30);
 dend(906,21.7,8,[[0,1,0.05],[2,3,0.15],[8,9,0.45],[4,5,0.15],[6,7,0.07],[11,12,0.55],[10,13,0.8]],389,30);
 rowDend(677,424,23,14,27);
 [['CA1',755],['CA2',856],['CA3',893],['DG',994]].forEach(q=>T(q[1],355,q[0],{a:'middle',fs:13,n:'c-region-title'}));
 T(1087,419,'Avg. % expression',{fs:11.5,n:'c-avg-row-label'});
 cRows.forEach((r,i)=>T(1087,439+i*23,r,{fs:11.5,n:'c-row-label'}));
 const h={cw:22.3,annY:599,annH:14,avgY:616,avgH:15,hY:633,rh:23,labY:707,fs:11};
 heatBlock(662,cECGenes,cECZ,cECFull,cECAvg,h);
 dend(662,22.3,19,[[1,2,0.05],[19,3,0.08],[20,4,0.1],[5,6,0.05],[22,7,0.07],[8,9,0.04],[23,24,0.09],[21,25,0.12],[0,26,0.35],[10,11,0.05],[12,13,0.06],[28,29,0.1],[30,14,0.2],[31,15,0.25],[27,32,0.6],[33,16,0.75],[17,18,0.15],[34,35,1.0]],596,32);
 rowDend(660,633,23,14,27);
 T(876,562,'EC',{a:'middle',fs:13,n:'c-ec-title'});
 T(1092,626,'Avg. % expression',{fs:11.5,n:'c-ec-avg-row-label'});
 cRows.forEach((r,i)=>T(1092,649+i*23,r,{fs:11.5,n:'c-ec-row-label'}));
 heatLegend(726,767);
})();
(function(){
 const g={cw:19.7,annY:892,annH:14,avgY:907,avgH:13,hY:921,rh:23,labY:995,fs:10.5};
 heatBlock(728,eCA1Genes,eCA1Z,eCA1Full,eCA1Avg,g);
 heatBlock(771,eDGGenes,eDGZ,eDGFull,eDGAvg,g);
 heatBlock(814,eECGenes,eECZ,eECFull,eECAvg,g);
 dend(728,19.7,2,[[0,1,0.25]],889,30);
 dend(771,19.7,2,[[0,1,0.8]],889,30);
 dend(814,19.7,13,[[1,2,0.04],[3,4,0.05],[13,14,0.07],[15,5,0.1],[16,6,0.12],[0,17,0.25],[7,8,0.15],[19,9,0.2],[18,20,0.45],[11,12,0.15],[10,22,0.3],[21,23,0.95]],889,32);
 rowDend(727,921,23,12,26);
 [['CA1',747],['DG',789],['EC',940]].forEach(q=>T(q[1],858,q[0],{a:'middle',fs:13,n:'e-region-title'}));
 T(1072,916,'Average % expression',{fs:11,n:'e-avg-row-label'});
 cRows.forEach((r,i)=>T(1072,937+i*23,r,{fs:11,n:'e-row-label'}));
 heatLegend(729,1057);
})();

// ---------- bar panels ----------
function barPanel(genes,vals,marker,cfg){
 const Y=v=>cfg.y0-v*cfg.sy;
 cfg.panels.forEach(p=>R(p[0],cfg.top,p[1]-p[0],cfg.bot-cfg.top,'#F2F2F2',{n:'facet-background'}));
 L(cfg.ax,cfg.top,cfg.ax,cfg.bot,{w:1.2,n:'y-axis'});
 cfg.ticks.forEach(t=>{L(cfg.ax-4,Y(t),cfg.ax,Y(t),{n:'y-tick'});T(cfg.ax-6,Y(t)+4,fmt(t),{a:'end',fs:11,n:'y-tick-label'});});
 cfg.groups.forEach(gp=>{
  const x1=gp.c0-gp.step/2-1,x2=gp.c0+(gp.e-gp.s)*gp.step+gp.step/2+1;
  for(let i=gp.s;i<=gp.e;i++){const cx=gp.c0+(i-gp.s)*gp.step,v=vals[i];
   const r=R(cx-cfg.bw/2,Y(Math.max(v,0)),cfg.bw,Math.abs(Y(v)-Y(0)),marker[i]=='E'?'#FAAF32':'#7DD8CD',{s:'#fff',sw:0.6});
   
   L(cx,cfg.bot,cx,cfg.bot+4,{n:'x-tick'});
   T(cx+4,cfg.bot+8,genes[i],{a:'end',fs:10.5,r:-90,n:'bar-gene-label'});}
  L(x1,Y(0),x2,Y(0),{w:1.4,n:'zero-line'});
  L(x1,cfg.bot,x2,cfg.bot,{w:1.6,n:'x-axis-segment'});
 });
 cfg.titles.forEach(t=>T(t[1],t[2],t[0],{a:'middle',fs:13,n:'facet-title'}));
}
barPanel(fGenes,fValues,fMarker,{y0:1224,sy:11.5,top:1188,bot:1262,ax:697,ticks:fTicks,bw:13,
 panels:[[697,790],[803,896],[910,1185]],
 groups:[{s:0,e:2,c0:705,step:15},{s:3,e:4,c0:766,step:15},{s:5,e:8,c0:812,step:15},{s:9,e:9,c0:887,step:15},{s:10,e:21,c0:918,step:15.2},{s:22,e:26,c0:1115,step:15.2}],
 titles:[['CA1',744,1150],['DG',858,1150],['EC',1070,1150],['E',720,1172],['I',766,1172],['E',834,1172],['I',887,1172],['E',1000,1172],['I',1145,1172]]});
barPanel(gGenes,gValues,gMarker,{y0:1468,sy:6.67,top:1425,bot:1508,ax:55,ticks:gTicks,bw:14.5,
 panels:[[55,141],[153,222],[235,504]],
 groups:[{s:0,e:2,c0:64,step:16.8},{s:3,e:3,c0:130,step:16.8},{s:4,e:4,c0:163,step:16.8},{s:5,e:6,c0:195,step:16.8},{s:7,e:16,c0:245,step:16.6},{s:17,e:21,c0:427,step:16.6}],
 titles:[['CA1',104,1394],['DG',181,1394],['EC',388,1394],['E',80,1416],['I',130,1416],['E',163,1416],['I',203,1416],['E',318,1416],['I',460,1416]]});
barPanel(hGenes,hValues,hMarker,{y0:1469,sy:17.5,top:1428,bot:1511,ax:700,ticks:hTicks,bw:10.6,
 panels:[[700,797],[806,866],[878,1185]],
 groups:[{s:0,e:7,c0:708,step:11.6},{s:8,e:12,c0:813,step:11.6},{s:13,e:29,c0:885,step:11.6},{s:30,e:37,c0:1096,step:11.6}],
 titles:[['CA1',742,1394],['DG',833,1394],['EC',1054,1394],['E',743,1416],['E',832,1416],['E',976,1416],['I',1137,1416]]});
</script>
</body></html>
